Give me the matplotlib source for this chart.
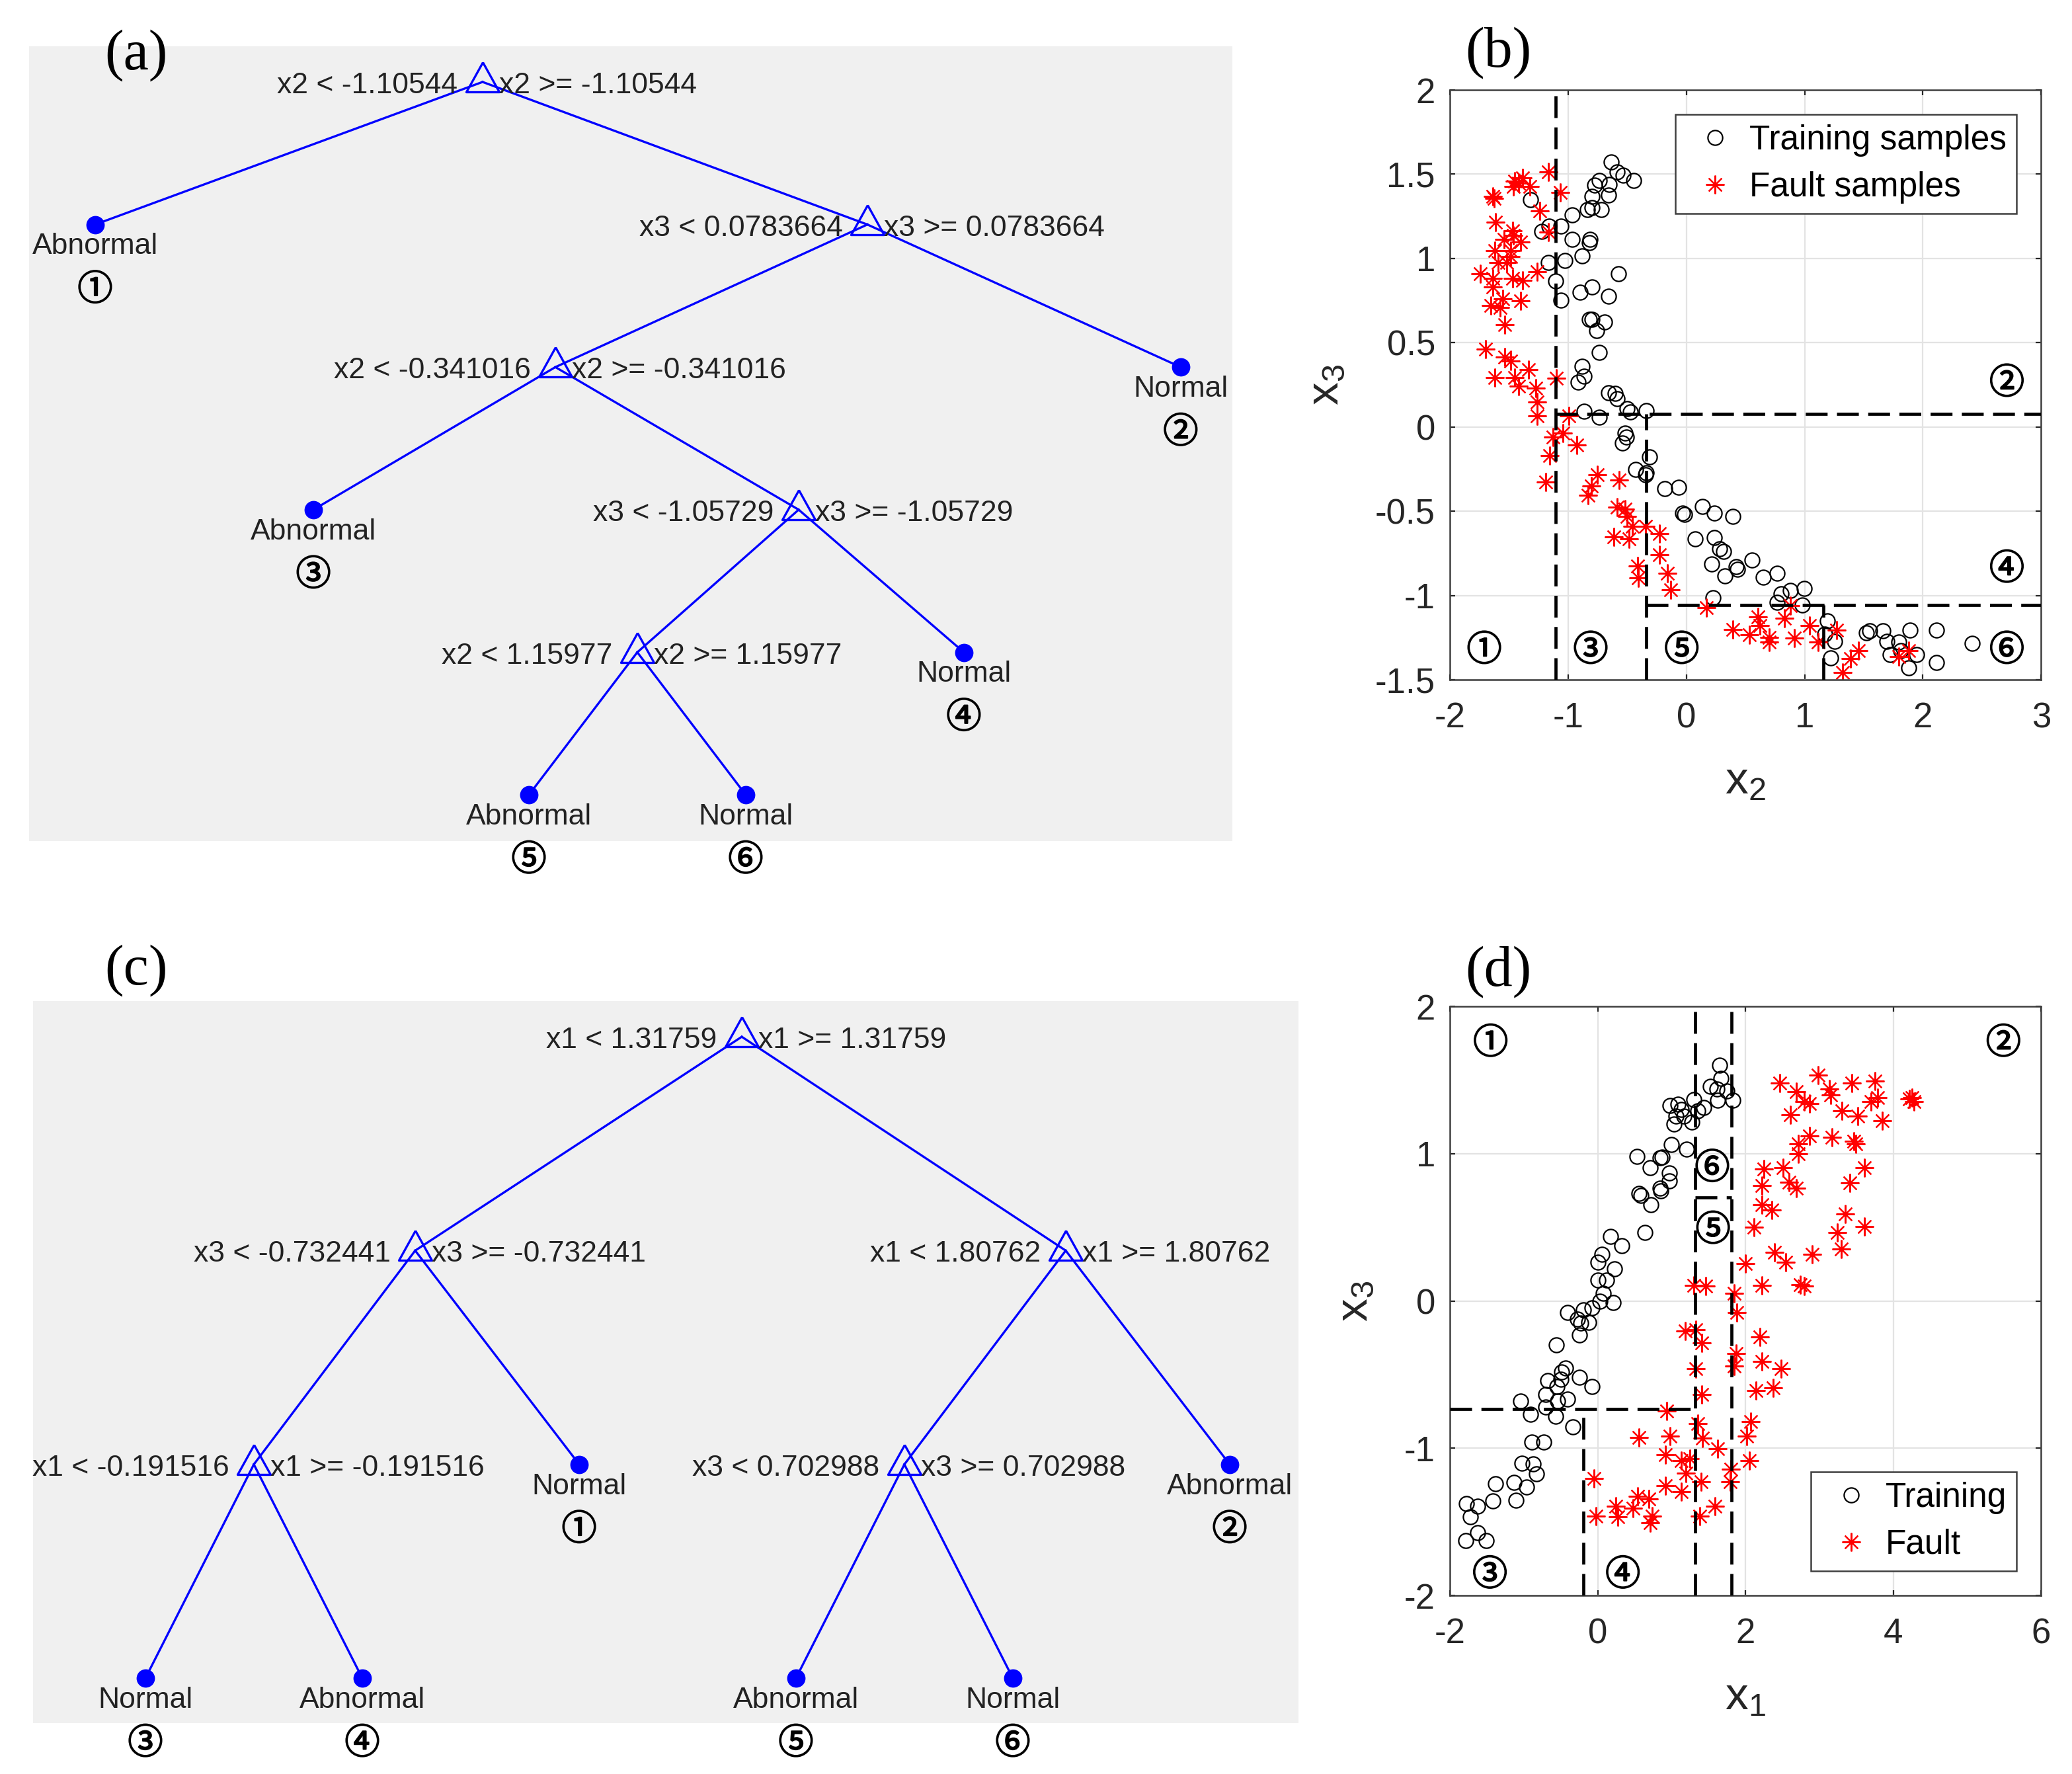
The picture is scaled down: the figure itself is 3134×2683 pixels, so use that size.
import numpy as np
import matplotlib
matplotlib.use('Agg')
from matplotlib import pyplot as plt
import matplotlib.patheffects as pe

plt.rcParams['font.family'] = ['Liberation Sans', 'DejaVu Sans']
plt.rcParams['axes.unicode_minus'] = False
plt.rcParams['mathtext.default'] = 'regular'

CIRC_FONT = ['Noto Sans CJK JP', 'DejaVu Sans']
CIRC_FX = [pe.withStroke(linewidth=0.7, foreground='black')]
CIRC_SIZE = 19
BLUE = '#0000ff'
TXT = '#222222'

# ---------------- tree (a) ----------------
a_x = [0.3769, 0.0549, 0.6967, 0.9571, 0.4374, 0.2363, 0.6396, 0.7769, 0.5055, 0.4154, 0.5956]
a_level = [0, 1, 1, 2, 2, 3, 3, 4, 4, 5, 5]
a_parent = [None, 0, 0, 2, 2, 4, 4, 6, 6, 8, 8]
a_var = ['x2', None, 'x3', None, 'x2', None, 'x3', None, 'x2', None, None]
a_thr = ['-1.10544', None, '0.0783664', None, '-0.341016', None, '-1.05729', None, '1.15977', None, None]
a_leaf = [None, 'Abnormal', None, 'Normal', None, 'Abnormal', None, 'Normal', None, 'Abnormal', 'Normal']
a_region = [None, '①', None, '②', None, '③', None, '④', None, '⑤', '⑥']

# ---------------- tree (c) ----------------
c_x = [0.5601, 0.3020, 0.8161, 0.1745, 0.4316, 0.6886, 0.9457, 0.0888, 0.2602, 0.6029, 0.7743]
c_level = [0, 1, 1, 2, 2, 2, 2, 3, 3, 3, 3]
c_parent = [None, 0, 0, 1, 1, 2, 2, 3, 3, 5, 5]
c_var = ['x1', 'x3', 'x1', 'x1', None, 'x3', None, None, None, None, None]
c_thr = ['1.31759', '-0.732441', '1.80762', '-0.191516', None, '0.702988', None, None, None, None, None]
c_leaf = [None, None, None, None, 'Normal', None, 'Abnormal', 'Normal', 'Abnormal', 'Abnormal', 'Normal']
c_region = [None, None, None, None, '①', None, '②', '③', '④', '⑤', '⑥']

# ---------------- scatter (b): x2 vs x3 ----------------
b_train_x = [-0.636, -0.585, -0.534, -0.449, -0.738, -0.779, -0.653, -0.660, -0.799, -1.316,
             -0.796, -0.840, -0.721, -0.966, -1.163, -1.061, -1.221, -0.966, -0.816, -0.823,
             -0.884, -1.170, -1.027, -0.575, -1.105, -0.901, -0.799, -0.660, -1.061, -0.823,
             -0.799, -0.694, -0.762, -0.738, -0.884, -0.867, -0.918, -0.660, -0.602, -0.585,
             -0.500, -0.476, -0.867, -0.738, -0.340, -0.517, -0.510, -0.544, -0.313, -0.432,
             -0.340, -0.347, -0.184, -0.068, -0.031, -0.014, 0.136, 0.238, 0.395, 0.071,
             0.238, 0.282, 0.316, 0.214, 0.418, 0.429, 0.327, 0.554, 0.650, 0.765,
             0.803, 0.878, 0.997, 0.769, 0.980, 0.224, 1.190, 1.167, 1.252, 1.218,
             1.524, 1.551, 1.660, 1.694, 1.796, 1.891, 2.112, 1.813, 1.721, 1.949,
             1.881, 2.112, 2.415]
b_train_y = [1.573, 1.513, 1.494, 1.463, 1.463, 1.434, 1.441, 1.378, 1.369, 1.349,
             1.301, 1.289, 1.289, 1.260, 1.193, 1.193, 1.161, 1.113, 1.113, 1.092,
             1.017, 0.976, 0.988, 0.911, 0.867, 0.800, 0.831, 0.776, 0.754, 0.639,
             0.639, 0.622, 0.573, 0.441, 0.361, 0.301, 0.265, 0.205, 0.198, 0.169,
             0.108, 0.089, 0.092, 0.060, 0.096, -0.036, -0.060, -0.096, -0.176, -0.253,
             -0.270, -0.284, -0.366, -0.357, -0.511, -0.520, -0.470, -0.511, -0.530, -0.663,
             -0.655, -0.723, -0.740, -0.814, -0.827, -0.843, -0.884, -0.790, -0.892, -0.867,
             -0.988, -0.971, -0.959, -1.041, -1.055, -1.012, -1.152, -1.229, -1.272, -1.369,
             -1.222, -1.210, -1.210, -1.272, -1.277, -1.205, -1.205, -1.325, -1.349, -1.349,
             -1.427, -1.398, -1.284]
b_fault_x = [-1.170, -1.452, -1.418, -1.384, -1.327, -1.463, -1.639, -1.629, -1.068, -1.238,
             -1.170, -1.616, -1.469, -1.463, -1.544, -1.401, -1.486, -1.622, -1.595, -1.520,
             -1.486, -1.265, -1.741, -1.639, -1.469, -1.384, -1.639, -1.554, -1.656, -1.578,
             -1.401, -1.537, -1.701, -1.537, -1.486, -1.333, -1.622, -1.452, -1.418, -1.272,
             -1.265, -1.102, -1.265, -0.993, -1.044, -1.129, -0.925, -1.156, -1.190, -0.755,
             -0.806, -0.830, -0.568, -0.585, -0.517, -0.500, -0.456, -0.347, -0.612, -0.483,
             -0.228, -0.228, -0.415, -0.408, -0.160, -0.136, 0.170, 0.605, 0.622, 0.827,
             0.878, 0.395, 0.531, 0.701, 0.701, 0.912, 1.041, 1.116, 1.269, 1.456,
             1.388, 1.320, 1.796, 1.881]
b_fault_y = [1.513, 1.458, 1.446, 1.477, 1.427, 1.427, 1.369, 1.357, 1.393, 1.284,
             1.157, 1.217, 1.164, 1.137, 1.113, 1.096, 1.048, 1.048, 0.976, 0.976,
             1.012, 0.923, 0.911, 0.880, 0.880, 0.872, 0.831, 0.759, 0.723, 0.711,
             0.747, 0.607, 0.463, 0.414, 0.390, 0.342, 0.294, 0.294, 0.241, 0.229,
             0.149, 0.289, 0.067, 0.067, -0.036, -0.060, -0.108, -0.169, -0.325, -0.284,
             -0.349, -0.405, -0.313, -0.477, -0.487, -0.530, -0.590, -0.590, -0.651, -0.663,
             -0.631, -0.759, -0.824, -0.896, -0.867, -0.964, -1.072, -1.128, -1.176, -1.133,
             -1.060, -1.200, -1.234, -1.248, -1.277, -1.253, -1.176, -1.277, -1.205, -1.325,
             -1.373, -1.458, -1.361, -1.325]
b_reg_x = [-1.71, 2.71, -0.81, 2.71, -0.04, 2.71]
b_reg_y = [-1.325, 0.26, -1.325, -0.843, -1.325, -1.325]
b_xticks = [-2, -1, 0, 1, 2, 3]
b_xticklabels = ['-2', '-1', '0', '1', '2', '3']
b_yticks = [-1.5, -1, -0.5, 0, 0.5, 1, 1.5, 2]
b_yticklabels = ['-1.5', '-1', '-0.5', '0', '0.5', '1', '1.5', '2']

# ---------------- scatter (d): x1 vs x3 ----------------
d_train_x = [1.653, 1.664, 1.528, 1.615, 1.745, 1.626, 1.832, 1.301, 1.436, 1.355,
             0.976, 1.084, 1.127, 1.057, 1.165, 1.274, 1.030, 0.992, 1.203, 0.531,
             0.840, 0.867, 0.705, 0.965, 0.965, 0.840, 0.856, 0.558, 0.585, 0.715,
             0.640, 0.173, 0.325, 0.054, 0.000, 0.228, 0.000, 0.119, 0.070, 0.206,
             0.027, -0.407, -0.271, -0.190, -0.081, -0.233, -0.119, -0.244, -0.558, -0.434,
             -0.488, -0.244, -0.081, -0.678, -0.499, -0.553, -0.705, -0.542, -0.407, -1.041,
             -0.911, -0.705, -0.569, -0.336, -0.894, -0.732, -1.030, -0.878, -0.829, -1.138,
             -0.965, -1.111, -1.382, -1.420, -1.778, -1.626, -1.724, -1.789, -1.626, -1.507]
d_train_y = [1.602, 1.509, 1.458, 1.438, 1.425, 1.363, 1.363, 1.369, 1.313, 1.290,
             1.327, 1.335, 1.298, 1.257, 1.257, 1.215, 1.201, 1.060, 1.032, 0.982,
             0.971, 0.977, 0.906, 0.870, 0.813, 0.766, 0.746, 0.729, 0.718, 0.654,
             0.466, 0.438, 0.373, 0.317, 0.261, 0.219, 0.140, 0.140, 0.050, -0.011,
             0.000, -0.076, -0.123, -0.062, -0.048, -0.151, -0.146, -0.230, -0.300, -0.454,
             -0.482, -0.516, -0.581, -0.539, -0.533, -0.581, -0.637, -0.679, -0.665, -0.679,
             -0.769, -0.721, -0.785, -0.853, -0.959, -0.959, -1.100, -1.105, -1.175, -1.231,
             -1.262, -1.353, -1.240, -1.357, -1.374, -1.394, -1.464, -1.627, -1.571, -1.627]
d_fault_x = [2.466, 2.981, 2.683, 3.133, 3.442, 3.751, 2.791, 2.862, 3.154, 3.306,
             3.523, 3.697, 3.783, 2.602, 3.848, 4.217, 4.282, 4.250, 2.710, 2.862,
             3.171, 3.469, 3.496, 2.710, 2.249, 2.504, 2.222, 2.591, 2.683, 3.604,
             3.415, 2.222, 2.358, 3.350, 3.604, 2.114, 3.241, 3.295, 2.396, 2.547,
             2.900, 1.995, 1.301, 1.463, 2.222, 2.737, 2.791, 1.843, 1.886, 1.182,
             1.328, 1.409, 2.195, 1.870, 2.222, 2.482, 1.843, 1.328, 1.409, 2.141,
             2.374, 0.932, 2.070, 1.355, 0.553, 0.976, 1.420, 2.016, 1.626, 0.911,
             1.127, 1.247, 1.192, 2.049, 1.800, 1.789, 1.398, -0.054, 0.911, 1.127,
             0.542, 0.694, 0.244, 0.477, 0.271, -0.027, 0.732, 0.705, 1.382, 1.583]
d_fault_y = [1.481, 1.532, 1.419, 1.439, 1.481, 1.495, 1.355, 1.341, 1.397, 1.290,
             1.257, 1.355, 1.383, 1.262, 1.223, 1.374, 1.355, 1.380, 1.066, 1.122,
             1.111, 1.083, 1.066, 0.999, 0.898, 0.906, 0.785, 0.808, 0.766, 0.906,
             0.802, 0.654, 0.617, 0.589, 0.505, 0.499, 0.466, 0.353, 0.331, 0.261,
             0.317, 0.252, 0.107, 0.101, 0.107, 0.112, 0.101, 0.050, -0.076, -0.202,
             -0.196, -0.286, -0.244, -0.356, -0.412, -0.460, -0.440, -0.460, -0.637, -0.609,
             -0.589, -0.749, -0.819, -0.833, -0.926, -0.917, -0.931, -0.917, -1.001, -1.043,
             -1.086, -1.072, -1.170, -1.086, -1.142, -1.226, -1.226, -1.206, -1.254, -1.296,
             -1.324, -1.346, -1.394, -1.408, -1.464, -1.459, -1.459, -1.506, -1.459, -1.394]
d_reg_x = [-1.45, 5.49, -1.46, 0.34, 1.56, 1.55]
d_reg_y = [1.75, 1.75, -1.86, -1.86, 0.48, 0.90]
d_xticks = [-2, 0, 2, 4, 6]
d_xticklabels = ['-2', '0', '2', '4', '6']
d_yticks = [-2, -1, 0, 1, 2]
d_yticklabels = ['-2', '-1', '0', '1', '2']

REGIONS = ['①', '②', '③', '④', '⑤', '⑥']

# triangle marker with centroid at the node
TRI = [(0, 0.6667), (-0.5556, -0.3333), (0.5556, -0.3333), (0, 0.6667)]


def draw_tree(ax, xs, lv, parent, var, thr, leaf, region, ylim):
    ax.set_facecolor('#f0f0f0')
    for i, p in enumerate(parent):
        if p is not None:
            ax.plot([xs[p], xs[i]], [lv[p], lv[i]], color=BLUE, lw=1.2, zorder=1)
    for i in range(len(xs)):
        if var[i] is not None:
            ax.plot(xs[i], lv[i], marker=TRI, ms=21.6, mfc='none', mec=BLUE,
                    mew=1.2, ls='none', zorder=2)
            ax.annotate('%s < %s' % (var[i], thr[i]), (xs[i], lv[i]), xytext=(-13.5, -2),
                        textcoords='offset points', ha='right', va='center',
                        fontsize=16, color=TXT)
            ax.annotate('%s >= %s' % (var[i], thr[i]), (xs[i], lv[i]), xytext=(9, -2),
                        textcoords='offset points', ha='left', va='center',
                        fontsize=16, color=TXT)
        else:
            ax.plot(xs[i], lv[i], 'o', ms=9, color=BLUE, zorder=2)
            ax.annotate(leaf[i], (xs[i], lv[i]), xytext=(0, -12),
                        textcoords='offset points', ha='center', va='center',
                        fontsize=16, color=TXT)
            ax.annotate(region[i], (xs[i], lv[i]), xytext=(0, -35.5),
                        textcoords='offset points', ha='center', va='center',
                        fontsize=CIRC_SIZE, family=CIRC_FONT,
                        color='black', annotation_clip=False, path_effects=CIRC_FX)
    ax.set_xlim(0, 1)
    ax.set_ylim(ylim)
    ax.set_xticks([])
    ax.set_yticks([])
    for s in ax.spines.values():
        s.set_visible(False)


def style_scatter(ax, xt, xtl, yt, ytl, xlim, ylim, xlab, ylab):
    ax.set_xlim(xlim)
    ax.set_ylim(ylim)
    ax.set_xticks(xt)
    ax.set_xticklabels(xtl)
    ax.set_yticks(yt)
    ax.set_yticklabels(ytl)
    ax.grid(True, color='#e3e3e3', lw=0.8)
    ax.set_axisbelow(True)
    ax.tick_params(direction='in', top=True, right=True, length=3, width=0.8,
                   labelsize=19, colors='#262626')
    ax.tick_params(axis='x', pad=12)
    ax.tick_params(axis='y', pad=8)
    for s in ax.spines.values():
        s.set_color('#404040')
        s.set_linewidth(0.9)
    ax.set_xlabel(xlab, fontsize=25, color='#262626', labelpad=14)
    ax.set_ylabel(ylab, fontsize=25, color='#262626', labelpad=15)


def dashed(ax, xs, ys):
    ax.plot(xs, ys, color='black', lw=1.7, ls=(0, (7, 3)), zorder=3)


def add_legend(ax, loc):
    leg = ax.legend(loc=loc, fontsize=18.5, frameon=True, fancybox=False,
                    framealpha=1, edgecolor='#404040', borderpad=0.3, labelspacing=0.42,
                    handlelength=1.76, handletextpad=0.12, borderaxespad=0.72)
    leg.get_frame().set_linewidth(0.9)


def region_marks(ax, xs, ys):
    for r, x, y in zip(REGIONS, xs, ys):
        ax.text(x, y, r, ha='center', va='center', fontsize=CIRC_SIZE,
                family=CIRC_FONT, color='black', zorder=4, path_effects=CIRC_FX)


fig = plt.figure(figsize=(15.67, 13.415), dpi=200)

ax_a = fig.add_axes([0.01404, 0.5259, 0.5807, 0.4480])
draw_tree(ax_a, a_x, a_level, a_parent, a_var, a_thr, a_leaf, a_region, (5.324, -0.250))

ax_c = fig.add_axes([0.01595, 0.0287, 0.6107, 0.4070])
draw_tree(ax_c, c_x, c_level, c_parent, c_var, c_thr, c_leaf, c_region, (3.210, -0.167))

# (b)
ax_b = fig.add_axes([0.6998, 0.6168, 0.2853, 0.3325])
ax_b.plot(b_train_x, b_train_y, ls='none', marker='o', ms=8, mfc='none', mec='black',
          mew=0.8, label='Training samples', zorder=2)
ax_b.plot(b_fault_x, b_fault_y, ls='none', marker=(8, 2, 0), ms=10, color='red',
          mew=0.8, label='Fault samples', zorder=2)
t1, t2, t3, t4, t5 = [float(a_thr[i]) for i in (0, 2, 4, 6, 8)]
dashed(ax_b, [t1, t1], [-1.5, 2])
dashed(ax_b, [t1, 3], [t2, t2])
dashed(ax_b, [t3, t3], [-1.5, t2])
dashed(ax_b, [t3, 3], [t4, t4])
dashed(ax_b, [t5, t5], [-1.5, t4])
region_marks(ax_b, b_reg_x, b_reg_y)
style_scatter(ax_b, b_xticks, b_xticklabels, b_yticks, b_yticklabels, (-2, 3), (-1.5, 2),
              'x$_2$', 'x$_3$')
add_legend(ax_b, 'upper right')

# (d)
ax_d = fig.add_axes([0.6998, 0.1006, 0.2853, 0.3321])
ax_d.plot(d_train_x, d_train_y, ls='none', marker='o', ms=8, mfc='none', mec='black',
          mew=0.8, label='Training', zorder=2)
ax_d.plot(d_fault_x, d_fault_y, ls='none', marker=(8, 2, 0), ms=10, color='red',
          mew=0.8, label='Fault', zorder=2)
u1, u2, u3, u4, u5 = [float(c_thr[i]) for i in (0, 1, 2, 3, 5)]
dashed(ax_d, [u1, u1], [-2, 2])
dashed(ax_d, [u3, u3], [-2, 2])
dashed(ax_d, [-2, u1], [u2, u2])
dashed(ax_d, [u4, u4], [-2, u2])
dashed(ax_d, [u1, u3], [u5, u5])
region_marks(ax_d, d_reg_x, d_reg_y)
style_scatter(ax_d, d_xticks, d_xticklabels, d_yticks, d_yticklabels, (-2, 6), (-2, 2),
              'x$_1$', 'x$_3$')
add_legend(ax_d, 'lower right')

# panel labels
for lab, px, py in [('(a)', 206, 84), ('(b)', 2266, 80), ('(c)', 206, 1468), ('(d)', 2266, 1470)]:
    fig.text(px / 3134, 1 - py / 2683, lab, ha='center', va='center', fontsize=31,
             family='Liberation Serif', color='black')

fig.savefig('out.png', dpi=200)
